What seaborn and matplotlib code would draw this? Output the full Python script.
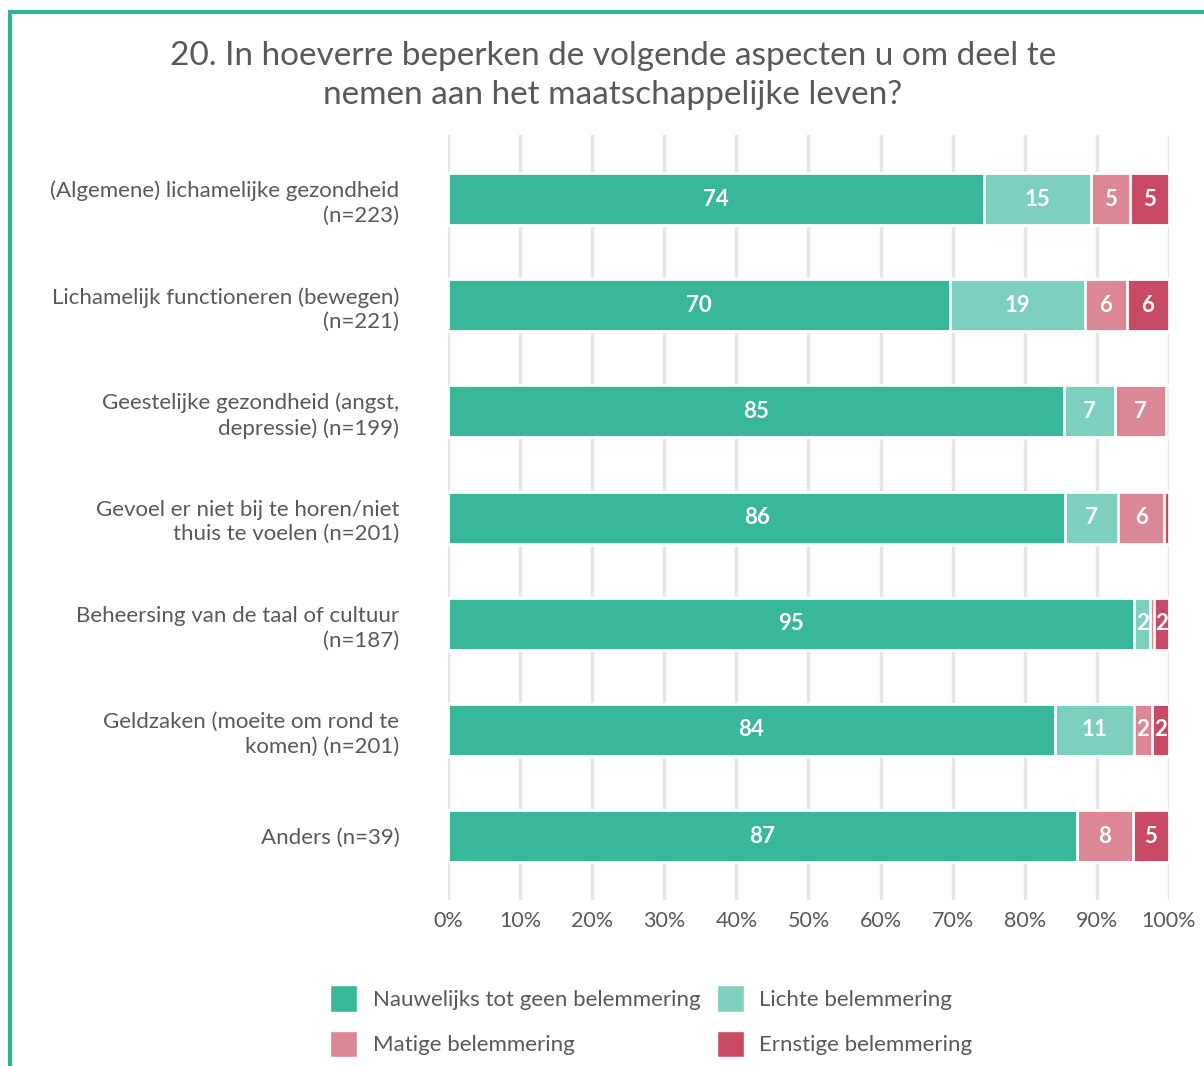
import matplotlib
matplotlib.use("Agg")
import matplotlib.pyplot as plt
from matplotlib.patches import Patch, Rectangle
import numpy as np
import pandas as pd
import seaborn as sns

# data (percentages)
categories = [
    "(Algemene) lichamelijke gezondheid\n(n=223)",
    "Lichamelijk functioneren (bewegen)\n(n=221)",
    "Geestelijke gezondheid (angst,\ndepressie) (n=199)",
    "Gevoel er niet bij te horen/niet\nthuis te voelen (n=201)",
    "Beheersing van de taal of cultuur\n(n=187)",
    "Geldzaken (moeite om rond te\nkomen) (n=201)",
    "Anders (n=39)",
]
series_names = ["Nauwelijks tot geen belemmering", "Lichte belemmering",
                "Matige belemmering", "Ernstige belemmering"]
nauwelijks = [74.4, 69.6, 85.4, 85.6, 95.2, 84.2, 87.2]
lichte = [14.8, 18.7, 7.1, 7.4, 2.2, 11.0, 0.0]
matige = [5.4, 5.9, 7.1, 6.3, 0.5, 2.4, 7.8]
ernstig = [5.4, 5.8, 0.4, 0.7, 2.1, 2.4, 5.0]
tick_labels = ["0%", "10%", "20%", "30%", "40%", "50%", "60%", "70%", "80%", "90%", "100%"]

colors = ["#38b79b", "#7dcfbe", "#db8795", "#c94a64"]
text_grey = "#595959"

sns.set_style("white")
plt.rcParams["font.family"] = ["Lato", "DejaVu Sans"]

df = pd.DataFrame({"cat": categories, series_names[0]: nauwelijks,
                   series_names[1]: lichte, series_names[2]: matige,
                   series_names[3]: ernstig})
cum = df[series_names].cumsum(axis=1)

fig = plt.figure(figsize=(12.04, 10.66), dpi=100)
ax = fig.add_axes([0.3721, 0.156, 0.5988, 0.717])

# stacked bars: draw cumulative totals from the back
for name, col in reversed(list(zip(series_names, colors))):
    sns.barplot(x=cum[name], y=df["cat"], orient="h", color=col, saturation=1,
                width=0.49, edgecolor="white", linewidth=2, ax=ax, zorder=3)

# value labels in the middle of each segment
for i in range(len(categories)):
    left = 0
    for name in series_names:
        v = df.loc[i, name]
        if v >= 1.5:
            ax.text(left + v / 2, i, f"{v:.0f}", ha="center", va="center",
                    color="white", fontsize=16, fontweight="bold", zorder=5)
        left += v

ax.set_xlim(0, 100)
ax.set_ylim(len(categories) - 0.4, -0.6)
ax.set_xticks(np.arange(0, 101, 10))
ax.set_xticklabels(tick_labels)
ax.xaxis.grid(True, color="#e6e6e6", linewidth=2.5, zorder=0)
ax.set_axisbelow(True)
for s in ax.spines.values():
    s.set_visible(False)
ax.tick_params(axis="x", length=0, pad=8, labelsize=15.5, labelcolor=text_grey)
ax.tick_params(axis="y", length=0, pad=35, labelsize=16, labelcolor=text_grey)
for t in ax.get_yticklabels():
    t.set_linespacing(1.3)
ax.set_xlabel("")
ax.set_ylabel("")

fig.text(0.509, 0.962, "20. In hoeverre beperken de volgende aspecten u om deel te\n"
         "nemen aan het maatschappelijke leven?", ha="center", va="top",
         fontsize=24, color=text_grey, linespacing=1.4)

# legend: row 1 = Nauwelijks, Lichte; row 2 = Matige, Ernstige
order = [0, 2, 1, 3]
handles = [Patch(facecolor=colors[k], edgecolor="white") for k in order]
labels = [series_names[k] for k in order]
fig.legend(handles, labels, ncol=2, loc="center", bbox_to_anchor=(0.541, 0.042),
           frameon=False, fontsize=16, labelcolor=text_grey, handlelength=1.2,
           handleheight=1.45, handletextpad=0.7, columnspacing=0.75, labelspacing=0.85)

# green frame around the chart
fig.add_artist(Rectangle((0.0085, -0.1), 1.2, 1.1 - 0.0115, transform=fig.transFigure,
                         fill=False, edgecolor="#2bb596", linewidth=3))

fig.savefig("out.png", dpi=100)
